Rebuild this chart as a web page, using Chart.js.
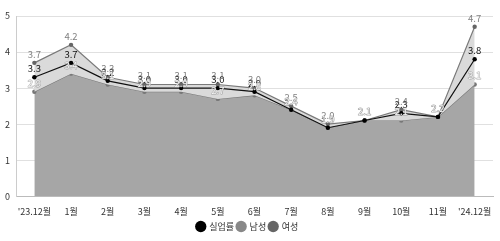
<!DOCTYPE html>
<html>
<head>
<meta charset="utf-8">
<script src="https://cdn.jsdelivr.net/npm/chart.js@4"></script>
<style>
  html, body { margin: 0; padding: 0; background: #fff; }
  #wrap { width: 500px; height: 241px; }
</style>
</head>
<body>
<div id="wrap"><canvas id="chart" width="500" height="241"></canvas></div>
<script>
const labels = ["'23.12월", '1월', '2월', '3월', '4월', '5월', '6월', '7월', '8월', '9월', '10월', '11월', "'24.12월"];
const total = [3.3, 3.7, 3.2, 3.0, 3.0, 3.0, 2.9, 2.4, 1.9, 2.1, 2.3, 2.2, 3.8];
const men = [3.7, 4.2, 3.3, 3.1, 3.1, 3.1, 3.0, 2.5, 2.0, 2.1, 2.4, 2.2, 4.7];
const women = [2.9, 3.4, 3.1, 2.9, 2.9, 2.7, 2.8, 2.4, 1.9, 2.1, 2.1, 2.2, 3.1];
const yTicks = [0, 1, 2, 3, 4, 5];

const FONT = "'Noto Sans CJK KR', 'Noto Sans', sans-serif";
const labelColors = ['#111111', '#808080', '#f4f4f4'];

// draws the value over every point
const valueLabels = {
  id: 'valueLabels',
  afterDatasetsDraw(chart) {
    const ctx = chart.ctx;
    ctx.save();
    ctx.font = '9.5px ' + FONT;
    ctx.textAlign = 'center';
    ctx.textBaseline = 'bottom';
    ctx.lineJoin = 'round';
    chart.data.datasets.forEach((ds, i) => {
      const meta = chart.getDatasetMeta(i);
      meta.data.forEach((pt, j) => {
        const txt = ds.data[j].toFixed(1);
        if (i === 2) {
          ctx.strokeStyle = 'rgba(140,140,140,0.7)';
          ctx.lineWidth = 1;
          ctx.strokeText(txt, pt.x, pt.y - 4);
        }
        ctx.fillStyle = labelColors[i];
        ctx.fillText(txt, pt.x, pt.y - 4);
      });
    });
    ctx.restore();
  }
};

new Chart(document.getElementById('chart'), {
  type: 'line',
  data: {
    labels: labels,
    datasets: [
      {
        label: '실업률', data: total, borderColor: '#111', backgroundColor: '#000',
        borderWidth: 1.2, pointRadius: 2.2, pointBackgroundColor: '#000', pointBorderWidth: 0,
        fill: false, tension: 0
      },
      {
        label: '남성', data: men, borderColor: '#7a7a7a', backgroundColor: '#dadada',
        borderWidth: 1.2, pointRadius: 2.2, pointBackgroundColor: '#666', pointBorderWidth: 0,
        fill: 2, tension: 0
      },
      {
        label: '여성', data: women, borderColor: '#777', backgroundColor: '#a6a6a6',
        borderWidth: 1.2, pointRadius: 2.2, pointBackgroundColor: '#777', pointBorderWidth: 0,
        fill: 'origin', tension: 0
      }
    ]
  },
  options: {
    responsive: false,
    animation: false,
    layout: { padding: { top: 16, right: 7, left: 2, bottom: 0 } },
    plugins: {
      tooltip: { enabled: false },
      legend: {
        position: 'bottom',
        labels: {
          usePointStyle: true, pointStyle: 'circle', boxWidth: 8, boxHeight: 8,
          padding: 3, color: '#333', font: { family: FONT, size: 9 },
          generateLabels(chart) {
            const cols = ['#000', '#888', '#666'];
            return chart.data.datasets.map((ds, i) => ({
              text: ds.label, fillStyle: cols[i], strokeStyle: cols[i], lineWidth: 0,
              pointStyle: 'circle', datasetIndex: i, fontColor: '#333'
            }));
          }
        }
      }
    },
    scales: {
      x: {
        offset: true,
        grid: { display: false },
        border: { color: '#bbb' },
        ticks: { color: '#333', font: { family: FONT, size: 9 }, maxRotation: 0, autoSkip: false, padding: 2 }
      },
      y: {
        min: yTicks[0], max: yTicks[yTicks.length - 1],
        afterBuildTicks(scale) { scale.ticks = yTicks.map(v => ({ value: v })); },
        afterFit(scale) { scale.width = 14; },
        grid: { color: '#e0e0e0', drawTicks: false },
        border: { color: '#ccc' },
        ticks: { color: '#333', font: { family: FONT, size: 9 }, padding: 6 }
      }
    }
  },
  plugins: [valueLabels]
});
</script>
</body>
</html>
